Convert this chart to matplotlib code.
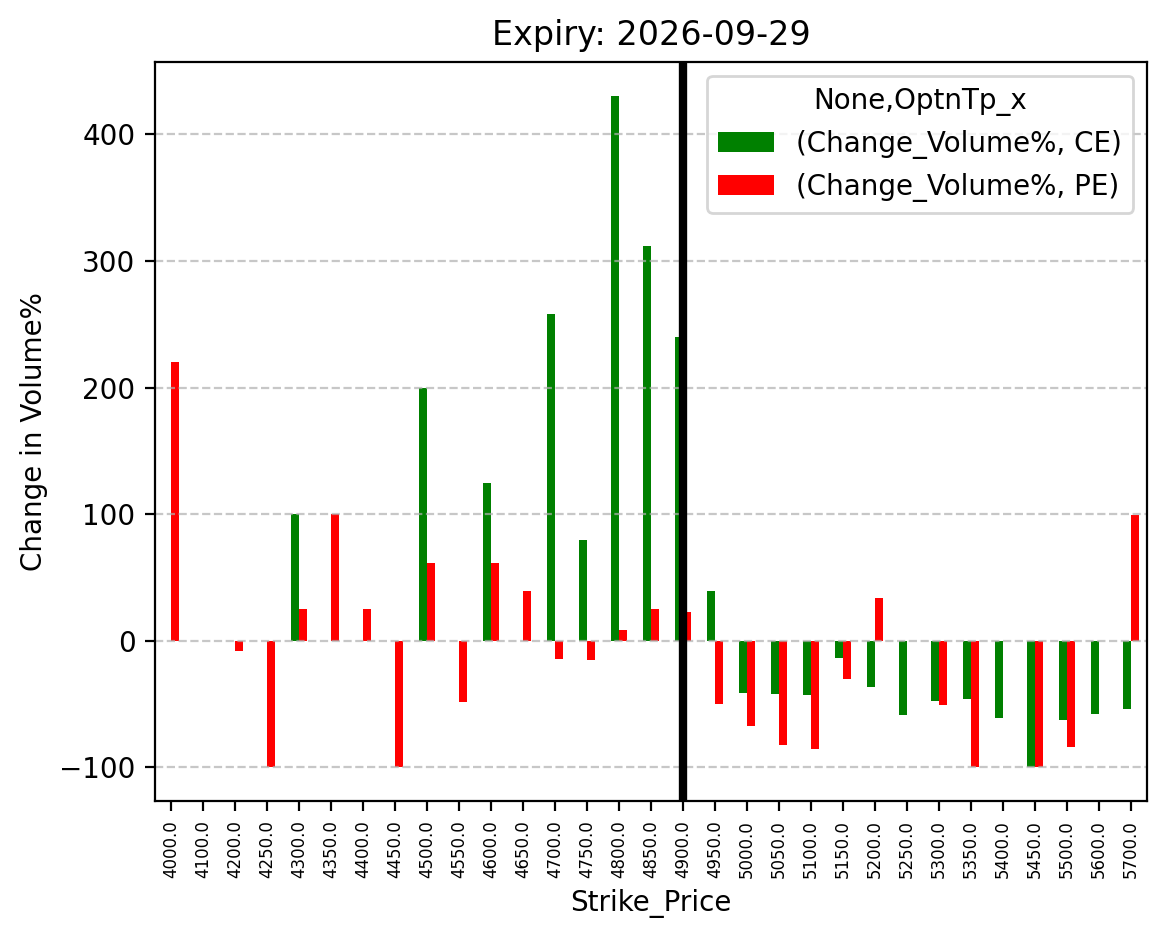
import numpy as np
import matplotlib
matplotlib.use("Agg")
import matplotlib.pyplot as plt

strikes = [4000, 4100, 4200, 4250, 4300, 4350, 4400, 4450, 4500, 4550, 4600, 4650,
           4700, 4750, 4800, 4850, 4900, 4950, 5000, 5050, 5100, 5150, 5200, 5250,
           5300, 5350, 5400, 5450, 5500, 5600, 5700]
ce = [np.nan, np.nan, np.nan, np.nan, 100, np.nan, np.nan, np.nan, 200, np.nan, 125, np.nan,
      258.4, 80, 430.7, 312, 240.3, 39.3, -41.4, -42.2, -43, -13.7, -36.7, -58.8,
      -47.8, -46.2, -61.2, -100, -62.8, -58, -54.1]
pe = [220, np.nan, -8, -100, 25, 100, 25.3, -100, 61.6, -48.7, 61.6, 39.7,
      -14.7, -15.5, 8.7, 25, 22.4, -50.1, -67.5, -82.6, -85.8, -30.3, 33.8, np.nan,
      -50.9, -100, np.nan, -100, -84.2, np.nan, 99]
spot_strike = 4900

fig = plt.figure(figsize=(5.83, 4.695), dpi=200)
ax = fig.add_axes([0.1329, 0.147, 0.8508, 0.787])
x = np.arange(len(strikes))
w = 0.25
ax.bar(x - w/2, np.nan_to_num(ce), width=w, color='green', label='(Change_Volume%, CE)')
ax.bar(x + w/2, np.nan_to_num(pe), width=w, color='red', label='(Change_Volume%, PE)')
ax.set_xlim(-0.5, len(strikes) - 0.5)
ax.margins(y=0.05)
ax.set_xticks(x)
ax.set_xticklabels([f"{s:.1f}" for s in strikes], rotation=90, fontsize=6)
ax.axvline(strikes.index(spot_strike), color='black', linewidth=3)
ax.grid(axis='y', linestyle='--', alpha=0.7)
ax.set_title("Expiry: 2026-09-29")
ax.set_xlabel("Strike_Price")
ax.set_ylabel("Change in Volume%")
ax.legend(title="None,OptnTp_x", loc='upper right')
fig.savefig("out.png", dpi=200)
